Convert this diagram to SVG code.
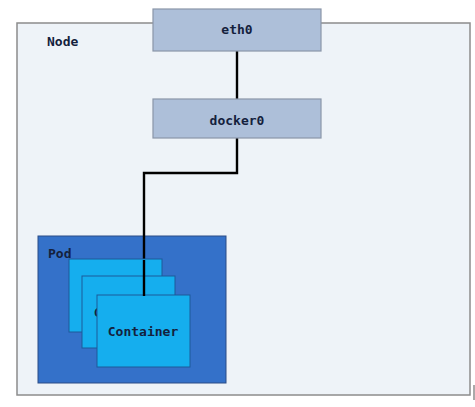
<svg xmlns="http://www.w3.org/2000/svg" width="475" height="407" viewBox="0 0 475 407">
<style>
text{font-family:"DejaVu Sans Mono","Liberation Mono",monospace;font-weight:bold;font-size:13px;fill:#14213d}
.iface{fill:#adbfd9;stroke:#8a96a8;stroke-width:1.2}
.ctr{fill:#15aeee;stroke:#1d5a9a;stroke-width:1}
.wire{fill:none;stroke:#000;stroke-width:2.4}
</style>
<g id="node">
<rect x="17" y="23" width="453" height="372" fill="#eef3f8" stroke="#8c8c8c" stroke-width="1.5"/>
<text x="47" y="46">Node</text>
</g>
<line x1="474" y1="385" x2="474" y2="400" stroke="#555" stroke-width="1"/>
<g id="pod">
<rect x="38" y="236" width="188" height="147" fill="#3471c9" stroke="#2a4d85" stroke-width="1"/>
<text x="48" y="258">Pod</text>
</g>
<g id="connectors">
<polyline class="wire" points="237,51 237,99"/>
<polyline class="wire" points="237,138 237,173 144,173 144,296"/>
</g>
<g id="eth0">
<rect class="iface" x="153" y="9" width="168" height="42"/>
<text x="237" y="34" text-anchor="middle">eth0</text>
</g>
<g id="docker0">
<rect class="iface" x="153" y="99" width="168" height="39"/>
<text x="237" y="125" text-anchor="middle">docker0</text>
</g>
<g id="container1">
<rect class="ctr" x="69" y="259" width="93" height="73"/>
</g>
<g id="container2">
<rect class="ctr" x="82" y="276" width="93" height="72"/>
<text x="129" y="317" text-anchor="middle">Container</text>
</g>
<g id="container3">
<rect class="ctr" x="97" y="295" width="93" height="72"/>
<text x="143" y="336" text-anchor="middle">Container</text>
</g>
<line x1="144" y1="260" x2="144" y2="296" stroke="#000" stroke-width="2.4"/>
</svg>
